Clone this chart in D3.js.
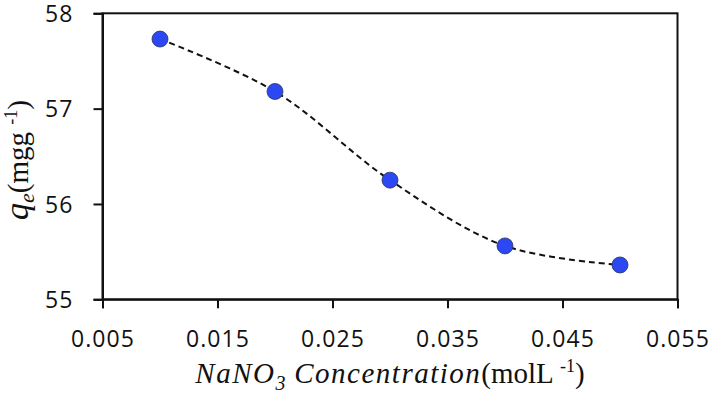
<!DOCTYPE html>
<html><head><meta charset="utf-8">
<script src="https://cdn.jsdelivr.net/npm/d3@7/dist/d3.min.js"></script>
<style>body{margin:0;background:#fff}svg{display:block}</style>
</head><body>
<svg id="c" width="713" height="398"></svg>
<script>
const concentration = [0.01, 0.02, 0.03, 0.04, 0.05];
const qe = [57.73, 57.18, 56.25, 55.56, 55.36];
const xTicks = [0.005, 0.015, 0.025, 0.035, 0.045, 0.055];
const yTicks = [55, 56, 57, 58];

const svg = d3.select("#c");
const L = 102.5, R = 677.5, T = 13.3, B = 299.3;
const x = d3.scaleLinear().domain([0.005, 0.055]).range([L, R]);
const y = d3.scaleLinear().domain([55, 58]).range([B, T]);

const font = "'Open Sans', sans-serif";

// frame
svg.append("rect").attr("x", L).attr("y", T).attr("width", R - L).attr("height", B - T)
  .attr("fill", "none").attr("stroke", "#111").attr("stroke-width", 2);

const xAxis = svg.append("g").attr("transform", `translate(0,${B})`)
  .call(d3.axisBottom(x).tickValues(xTicks).tickFormat(d3.format(".3f")).tickSize(9).tickPadding(22));
const yAxis = svg.append("g").attr("transform", `translate(${L},0)`)
  .call(d3.axisLeft(y).tickValues(yTicks).tickFormat(d3.format("d")).tickSize(9).tickPadding(20));
[xAxis, yAxis].forEach(g => {
  g.select(".domain").attr("stroke", "#111").attr("stroke-width", 2);
  g.selectAll(".tick line").attr("stroke", "#111").attr("stroke-width", 2);
  g.selectAll(".tick text").attr("fill", "#111").style("font-family", font)
    .style("font-size", "23px").style("letter-spacing", "1.1px");
});
yAxis.selectAll(".tick text").attr("dy", "0.36em");

// smoothed dashed line
const line = d3.line().x((d, i) => x(concentration[i])).y(d => y(d)).curve(d3.curveCatmullRom.alpha(0.5));
svg.append("path").attr("d", line(qe)).attr("fill", "none").attr("stroke", "#111")
  .attr("stroke-width", 2).attr("stroke-dasharray", "6,4");

// points
svg.selectAll("circle.pt").data(qe).join("circle").attr("class", "pt")
  .attr("cx", (d, i) => x(concentration[i])).attr("cy", d => y(d))
  .attr("r", 8)
  .attr("fill", "#2b48f2").attr("stroke", "#2a3360").attr("stroke-width", 0.8);

// x title
const xt = svg.append("text").attr("x", (L + R) / 2).attr("y", 383).attr("text-anchor", "middle")
  .style("font-family", "'Liberation Serif', serif").style("font-size", "29px").attr("fill", "#111");
xt.append("tspan").style("font-style", "italic").style("letter-spacing", "1.5px").text("NaNO");
xt.append("tspan").style("font-style", "italic").style("font-size", "20px").attr("dy", 7).text("3");
xt.append("tspan").style("font-style", "italic").style("letter-spacing", "1.5px").attr("dy", -7).text(" Concentration");
xt.append("tspan").text("(molL ");
xt.append("tspan").style("font-size", "18px").attr("dy", -11).text("-1");
xt.append("tspan").attr("dy", 11).text(")");

// y title
const yt = svg.append("text").attr("transform", "translate(28,160) rotate(-90)").attr("text-anchor", "middle")
  .style("font-family", "'Liberation Serif', serif").style("font-size", "29px").attr("fill", "#111");
yt.append("tspan").style("font-style", "italic").style("font-size", "34px").text("q");
yt.append("tspan").style("font-style", "italic").style("font-size", "22px").attr("dy", 6).text("e");
yt.append("tspan").attr("dy", -6).text("(mgg ");
yt.append("tspan").style("font-size", "18px").attr("dy", -11).text("-1");
yt.append("tspan").attr("dy", 11).text(")");
</script>
</body></html>
